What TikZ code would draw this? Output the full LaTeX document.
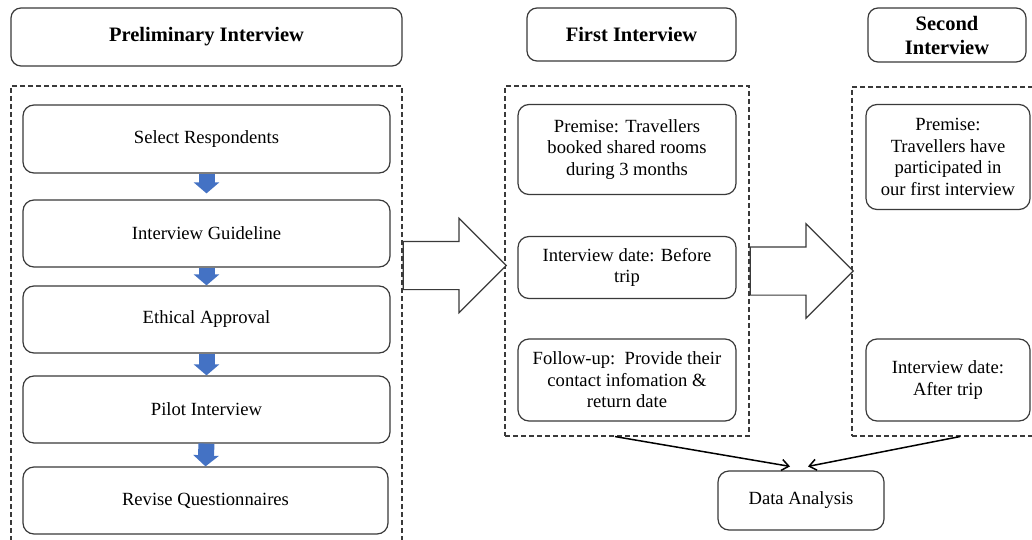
\documentclass[tikz,border=0pt]{standalone}
\usepackage{fontspec}
\setmainfont{Liberation Serif}
\usetikzlibrary{arrows.meta,shapes.arrows}
\definecolor{stepblue}{HTML}{4472C4}
\definecolor{edge}{HTML}{3A3A3A}

\tikzset{
  hdr/.style={draw=edge, line width=1.2pt, rounded corners=10pt, align=center, inner sep=0pt,
    font=\fontsize{20.5}{24}\selectfont\bfseries},
  stepbox/.style={draw=edge, line width=1.2pt, rounded corners=11pt, align=center, inner sep=0pt,
    font=\fontsize{18.6}{21.6}\selectfont},
  frame/.style={draw=edge, line width=1.1pt, dash pattern=on 5pt off 3pt, inner sep=0pt},
  down/.style={stepblue, line width=16pt, -{Triangle[length=11pt,width=25pt]}},
  bigarrow/.style={single arrow, draw=edge, line width=1.2pt, fill=white, inner xsep=0pt, inner ysep=23.5pt,
    minimum width=93pt, minimum height=103pt, single arrow head extend=23pt, anchor=tail},
  link/.style={line width=1.5pt, -{Straight Barb[length=7pt,width=11pt]}}
}

\begin{document}
\begin{tikzpicture}[x=1pt,y=-1pt]
\useasboundingbox[fill=white] (0,0) rectangle (1032,540);
% Headers
\node[hdr, minimum width=391pt, minimum height=58pt] (pihead) at (206.5,37) {Preliminary Interview};
\node[hdr, minimum width=209pt, minimum height=53pt] (fihead) at (631.5,34.5) {First Interview};
\node[hdr, minimum width=158pt, minimum height=54pt] (sihead) at (947,35) {Second\\Interview};
% Dashed frames
\node[frame, minimum width=391pt, minimum height=480pt] (f0) at (206.5,326) {};
\node[frame, minimum width=244pt, minimum height=350pt] (f1) at (627,261) {};
\node[frame, minimum width=184pt, minimum height=349pt] (f2) at (944,261.5) {};
% Preliminary steps
\node[stepbox, minimum width=367pt, minimum height=68pt] (sr) at (206.5,139) {Select Respondents};
\node[stepbox, minimum width=367pt, minimum height=67pt] (ig) at (206.5,233.5) {Interview Guideline};
\node[stepbox, minimum width=367pt, minimum height=67pt] (ea) at (206.5,319.5) {Ethical Approval};
\node[stepbox, minimum width=367pt, minimum height=67pt] (pil) at (206.5,409.5) {Pilot Interview};
\node[stepbox, minimum width=365pt, minimum height=67pt] (rq) at (205.5,500.5) {Revise Questionnaires};
\draw[down] (sr.south) -- ([yshift=6pt]ig.north);
\draw[down] (ig.south) -- (ea.north);
\draw[down] (ea.south) -- (pil.north);
\draw[down] (pil.south) -- (rq.north);
% First interview
\node[stepbox, minimum width=218pt, minimum height=90pt] (prem1) at (627,149.5) {Premise: Travellers\\booked shared rooms\\during 3 months};
\node[stepbox, minimum width=218pt, minimum height=62pt] (date1) at (627,267.5) {Interview date: Before\\trip};
\node[stepbox, minimum width=218pt, minimum height=82pt] (fol) at (627,380) {Follow-up:\ \ Provide their\\contact infomation \&\\return date};
% Second interview
\node[stepbox, minimum width=164pt, minimum height=105pt] (prem2) at (948,157) {Premise:\\Travellers have\\participated in\\our first interview};
\node[stepbox, minimum width=164pt, minimum height=82pt] (date2) at (948,380) {Interview date:\\After trip};
% Big arrows between stages
\node[bigarrow] (go1) at (f0.east |- 0,265.5) {};
\node[bigarrow] (go2) at (f1.east |- 0,271) {};
% Analysis
\node[stepbox, minimum width=166pt, minimum height=59pt] (da) at (801,500.5) {Data Analysis};
\draw[link] ([xshift=-12pt]f1.south) -- ([xshift=-11pt,yshift=4pt]da.north);
\draw[link] ([xshift=16pt]f2.south) -- ([xshift=7pt,yshift=4pt]da.north);
\end{tikzpicture}
\end{document}
